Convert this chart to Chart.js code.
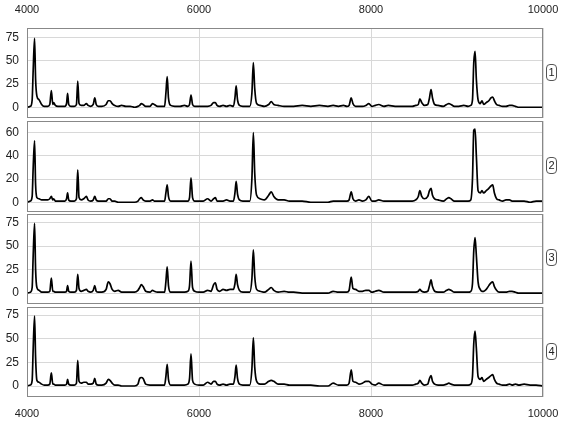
<!DOCTYPE html>
<html>
<head>
<meta charset="utf-8">
<script src="https://cdn.jsdelivr.net/npm/chart.js@4/dist/chart.umd.min.js"></script>
<style>
body { margin: 0; background: #fff; }
.panel { position: absolute; left: 0; }
.tag {
    position: absolute; left: 546px; width: 9px; height: 15px;
    border: 1px solid #555; border-radius: 4px;
    font: 11px "Liberation Sans", Arial, sans-serif; color: #222;
    text-align: center; line-height: 15px;
}
</style>
</head>
<body>
<canvas id="c1" class="panel" width="565" height="119" style="top:0px"></canvas>
<canvas id="c2" class="panel" width="565" height="93" style="top:120px"></canvas>
<canvas id="c3" class="panel" width="565" height="92" style="top:213px"></canvas>
<canvas id="c4" class="panel" width="565" height="115" style="top:306px"></canvas>
<div class="tag" style="top:64px">1</div>
<div class="tag" style="top:157px">2</div>
<div class="tag" style="top:249px">3</div>
<div class="tag" style="top:343px">4</div>
<script>

// wavenumber grid shared by the four spectra
const wavenumbers = [
    4000, 4040, 4060, 4072, 4088, 4100, 4115, 4140, 4170, 4200,
    4240, 4265, 4283, 4300, 4310, 4330, 4360, 4400,
    4440, 4460, 4472, 4485, 4510, 4550,
    4575, 4590, 4605, 4630, 4660, 4690, 4710, 4740, 4770, 4788, 4805, 4830,
    4870, 4920, 4945, 4965, 4990, 5020, 5060, 5100, 5150, 5200, 5250,
    5290, 5310, 5330, 5350, 5380, 5430, 5460, 5480, 5520, 5560,
    5600, 5615, 5630, 5645, 5670, 5720, 5780, 5830, 5870, 5890, 5907, 5925, 5950,
    6000, 6050, 6100, 6140, 6170, 6190, 6210, 6240, 6280, 6320, 6360,
    6400, 6418, 6432, 6448, 6470, 6510, 6550,
    6590, 6615, 6632, 6648, 6670, 6710, 6760, 6810, 6840, 6870, 6920, 6990, 7050,
    7100, 7200, 7300, 7400, 7500, 7560, 7620, 7680, 7720,
    7745, 7770, 7790, 7820, 7860, 7900, 7940, 7975, 8010,
    8050, 8090, 8150, 8200, 8280, 8350, 8420, 8480, 8520,
    8550, 8568, 8590, 8620, 8660, 8680, 8698, 8715, 8740, 8780,
    8840, 8880, 8905, 8930, 8970, 9020, 9080, 9130, 9160,
    9180, 9195, 9210, 9225, 9245, 9270, 9290, 9310, 9340, 9370, 9395, 9415, 9435, 9460, 9490,
    9530, 9570, 9610, 9640, 9680, 9720, 9780, 9850, 9920, 10000
];

const spectrum1 = [
    0, 1, 8, 40, 74, 30, 12, 8, 3, 1,
    1, 3, 18, 3, 5, 2, 1, 1,
    1, 4, 15, 3, 1, 1,
    3, 28, 4, 2, 2, 4, 2, 1, 3, 10, 3, 1,
    1, 3, 7, 7, 4, 2, 1, 2, 1, 1, 0,
    1, 2, 4, 3, 1, 1, 4, 3, 1, 1,
    1, 15, 33, 10, 2, 1, 1, 2, 1, 3, 13, 3, 1,
    1, 1, 1, 2, 5, 5, 2, 1, 2, 1, 2,
    1, 10, 23, 8, 2, 1, 1,
    1, 15, 48, 20, 4, 2, 1, 3, 6, 3, 2, 1, 1,
    1, 2, 1, 2, 1, 2, 1, 2, 1,
    2, 10, 4, 1, 1, 1, 2, 4, 1,
    2, 3, 1, 2, 1, 1, 1, 1, 2,
    3, 9, 5, 2, 3, 10, 19, 10, 3, 2,
    1, 3, 4, 3, 1, 1, 2, 1, 2,
    8, 48, 60, 30, 8, 4, 7, 3, 5, 7, 10, 11, 7, 3, 2,
    1, 1, 2, 2, 1, 0, 0, 0, 0, 0
];

const spectrum2 = [
    0, 1, 5, 30, 53, 15, 4, 3, 2, 2,
    2, 3, 5, 2, 3, 1, 1, 1,
    1, 3, 8, 2, 1, 1,
    3, 28, 4, 2, 3, 5, 2, 1, 2, 5, 2, 1,
    1, 1, 3, 3, 1, 1, 0, 0, 0, 0, 0,
    1, 3, 4, 2, 1, 1, 2, 1, 1, 1,
    1, 8, 15, 5, 1, 1, 1, 1, 1, 4, 21, 4, 1,
    1, 1, 3, 1, 3, 4, 1, 1, 1, 2, 1,
    1, 8, 18, 7, 2, 1, 1,
    1, 20, 60, 25, 6, 3, 2, 6, 9, 5, 2, 2, 1,
    1, 1, 0, 0, 0, 1, 1, 1, 1,
    2, 9, 3, 1, 2, 1, 2, 5, 1,
    1, 2, 1, 1, 1, 1, 1, 1, 2,
    5, 10, 5, 3, 5, 10, 12, 6, 3, 2,
    1, 3, 4, 3, 1, 1, 1, 1, 2,
    20, 62, 63, 40, 10, 8, 10, 8, 10, 12, 14, 15, 8, 3, 2,
    1, 2, 2, 1, 1, 1, 1, 0, 1, 1
];

const spectrum3 = [
    0, 1, 6, 40, 74, 25, 6, 3, 1, 1,
    1, 2, 16, 2, 2, 1, 1, 1,
    1, 2, 8, 2, 1, 1,
    3, 20, 5, 2, 3, 4, 2, 1, 3, 8, 2, 1,
    1, 4, 12, 10, 4, 2, 3, 1, 1, 1, 1,
    3, 6, 9, 7, 2, 1, 3, 2, 1, 1,
    1, 12, 28, 8, 1, 1, 1, 1, 2, 8, 34, 6, 2,
    1, 1, 3, 2, 9, 11, 4, 2, 4, 3, 4,
    4, 10, 20, 9, 3, 1, 1,
    1, 15, 46, 18, 4, 2, 1, 4, 6, 3, 1, 2, 1,
    1, 0, 0, 0, 0, 2, 1, 1, 1,
    3, 17, 5, 4, 2, 2, 3, 3, 1,
    2, 3, 1, 1, 1, 1, 1, 1, 1,
    2, 4, 2, 1, 2, 8, 14, 7, 2, 1,
    1, 3, 4, 3, 1, 1, 1, 1, 2,
    10, 45, 59, 40, 12, 4, 2, 2, 4, 8, 11, 12, 7, 3, 1,
    1, 1, 2, 2, 1, 0, 0, 0, 0, 0
];

const spectrum4 = [
    0, 1, 6, 40, 74, 30, 6, 4, 2, 1,
    1, 2, 14, 2, 2, 1, 1, 1,
    1, 2, 7, 2, 1, 1,
    3, 27, 5, 3, 4, 4, 2, 2, 3, 8, 2, 1,
    1, 3, 7, 6, 3, 1, 1, 0, 0, 0, 0,
    2, 8, 9, 8, 2, 1, 1, 1, 1, 1,
    1, 10, 23, 7, 1, 1, 1, 1, 2, 8, 34, 6, 2,
    1, 1, 4, 2, 5, 5, 2, 1, 2, 1, 2,
    2, 10, 22, 8, 2, 1, 1,
    1, 18, 51, 20, 5, 2, 2, 5, 6, 5, 2, 2, 1,
    1, 1, 1, 0, 0, 3, 1, 1, 1,
    3, 17, 5, 4, 2, 3, 5, 5, 2,
    1, 3, 1, 1, 1, 1, 1, 1, 2,
    3, 6, 3, 1, 2, 8, 11, 5, 2, 1,
    1, 2, 3, 2, 1, 1, 1, 1, 2,
    10, 45, 58, 40, 10, 7, 9, 5, 7, 9, 11, 12, 7, 3, 2,
    1, 1, 2, 1, 2, 1, 2, 1, 1, 0
];

const xTicks = [4000, 6000, 8000, 10000];
const yTicksA = [0, 25, 50, 75];
const yTicksB = [0, 20, 40, 60];

const font = '"Liberation Sans", Arial, sans-serif';

// grey box round the plot area
const frame = {
    id: 'frame',
    afterDraw(chart) {
        let a = chart.chartArea;
        let ctx = chart.ctx;
        ctx.save();
        ctx.strokeStyle = '#888';
        ctx.lineWidth = 1;
        ctx.strokeRect(Math.round(a.left) + 0.5, Math.round(a.top) + 0.5,
            Math.round(a.right - a.left) - 1, Math.round(a.bottom - a.top) - 1);
        ctx.restore();
    }
};

// stop the labels from eating into the plot area
function noPadding(s) {
    s.paddingTop = 0;
    s.paddingBottom = 0;
    s.paddingLeft = 0;
    s.paddingRight = 0;
}

function drawPanel(id, values, yTicks, yMin, yMax, xPos, padding) {
    let points = wavenumbers.map((w, i) => ({x: w, y: values[i]}));
    let ctx = document.getElementById(id).getContext('2d');
    new Chart(ctx, {
        type: 'line',
        data: {
            datasets: [{
                data: points,
                borderColor: '#000',
                borderWidth: 1.7,
                pointRadius: 0,
                fill: false,
                cubicInterpolationMode: 'monotone'
            }]
        },
        options: {
            responsive: false,
            animation: false,
            layout: {padding: padding},
            plugins: {legend: {display: false}, tooltip: {enabled: false}},
            scales: {
                x: {
                    type: 'linear',
                    position: xPos || 'bottom',
                    min: 4000,
                    max: 10000,
                    afterBuildTicks: s => { s.ticks = xTicks.map(v => ({value: v})); },
                    afterFit: s => {
                        s.height = xPos === 'top' ? 28 : (xPos ? 24 : 0);
                        noPadding(s);
                    },
                    grid: {color: '#d8d8d8', drawTicks: false},
                    border: {display: false},
                    ticks: {
                        display: !!xPos,
                        padding: xPos === 'top' ? 11 : 10,
                        maxRotation: 0,
                        color: '#222',
                        font: {family: font, size: 11},
                        callback: v => String(v)
                    }
                },
                y: {
                    min: yMin,
                    max: yMax,
                    afterBuildTicks: s => { s.ticks = yTicks.map(v => ({value: v})); },
                    afterFit: s => {
                        s.width = 27;
                        noPadding(s);
                    },
                    grid: {color: '#d8d8d8', drawTicks: false},
                    border: {display: false},
                    ticks: {
                        padding: 8,
                        color: '#222',
                        font: {family: font, size: 12},
                        callback: v => String(v)
                    }
                }
            }
        },
        plugins: [frame]
    });
}

drawPanel('c1', spectrum1, yTicksA, -11.5, 85, 'top', {top: 0, bottom: 1, left: 0, right: 22});
drawPanel('c2', spectrum2, yTicksB, -8.4, 70, null, {top: 1, bottom: 1, left: 0, right: 22});
drawPanel('c3', spectrum3, yTicksA, -11.5, 84, null, {top: 1, bottom: 1, left: 0, right: 22});
drawPanel('c4', spectrum4, yTicksA, -11.6, 83.5, 'bottom', {top: 1, bottom: 0, left: 0, right: 22});
</script>
</body>
</html>
